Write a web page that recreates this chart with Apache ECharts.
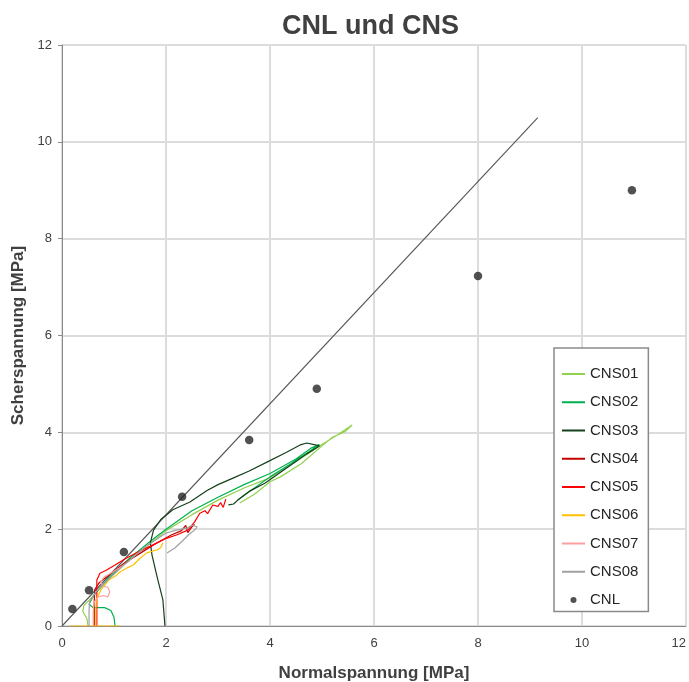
<!DOCTYPE html>
<html><head><meta charset="utf-8">
<script src="https://cdn.jsdelivr.net/npm/echarts@6/dist/echarts.min.js"></script>
<style>html,body{margin:0;padding:0;background:#fff}#c{width:689px;height:682px}</style>
</head><body><div id="c"></div>
<script>
const xTicks = [0, 2, 4, 6, 8, 10, 12];
const yTicks = [0, 2, 4, 6, 8, 10, 12];
const seriesNames = ['CNS01','CNS02','CNS03','CNS04','CNS05','CNS06','CNS07','CNS08','CNL'];
const cns01 = [[0.5,0],[0.48,0.15],[0.4,0.3],[0.42,0.42],[0.6,0.62],[0.9,0.98],[1.2,1.28],[1.6,1.62],[2.0,1.97],[2.5,2.3],[3.0,2.6],[3.5,2.85],[4.0,3.06],[4.5,3.4],[5.0,3.75],[5.3,3.95],[5.58,4.15],[5.45,4.02],[5.2,3.9],[5.0,3.72],[4.6,3.35],[4.2,3.08],[4.0,2.98],[3.7,2.72],[3.42,2.54]];
const cns02 = [[1.02,0],[1.0,0.18],[0.94,0.32],[0.82,0.38],[0.6,0.38],[0.52,0.45],[0.62,0.65],[0.9,1.0],[1.3,1.4],[1.7,1.75],[2.0,2.0],[2.5,2.38],[3.0,2.66],[3.5,2.92],[4.0,3.15],[4.5,3.45],[4.8,3.68],[4.95,3.75],[4.75,3.6],[4.4,3.35],[4.0,3.08],[3.7,2.85],[3.5,2.7],[3.38,2.6]];
const cns03 = [[1.98,0],[1.94,0.54],[1.83,1.01],[1.73,1.47],[1.7,1.72],[1.76,1.98],[1.9,2.2],[2.13,2.4],[2.46,2.56],[2.79,2.8],[3.0,2.92],[3.3,3.06],[3.6,3.2],[3.95,3.39],[4.3,3.58],[4.58,3.74],[4.71,3.78],[4.87,3.74],[4.95,3.72],[4.7,3.55],[4.3,3.25],[3.9,2.95],[3.6,2.78],[3.4,2.62],[3.3,2.52],[3.2,2.5]];
const cns04 = [[0.62,0],[0.62,0.5],[0.63,0.75],[0.72,0.9],[0.9,1.05],[1.2,1.3],[1.5,1.5],[1.8,1.7],[2.1,1.88],[2.3,1.97],[2.38,2.08],[2.42,1.93],[2.5,2.05],[2.55,2.1]];
const cns05 = [[0.67,0],[0.67,0.6],[0.67,0.95],[0.73,1.09],[0.85,1.15],[1.02,1.26],[1.2,1.38],[1.46,1.53],[1.7,1.65],[1.98,1.8],[2.2,1.88],[2.42,1.98],[2.55,2.15],[2.65,2.33],[2.75,2.38],[2.8,2.32],[2.9,2.5],[3.0,2.47],[3.05,2.55],[3.1,2.45],[3.15,2.62]];
const cns06 = [[0.15,0],[1.12,0],[0.65,0],[0.65,0.3],[0.66,0.55],[0.75,0.75],[0.9,0.95],[1.05,1.05],[1.12,1.12],[1.25,1.2],[1.37,1.26],[1.5,1.4],[1.63,1.51],[1.75,1.55],[1.83,1.57],[1.9,1.62],[1.94,1.72],[1.92,1.67]];
const cns07 = [[0.6,0],[0.6,0.3],[0.62,0.5],[0.7,0.6],[0.8,0.63],[0.88,0.6],[0.92,0.7],[0.88,0.8],[0.8,0.82],[0.74,0.9],[0.8,1.0],[0.95,1.1],[1.1,1.2],[1.3,1.35]];
const cns08 = [[0.52,0],[0.52,0.3],[0.53,0.5],[0.65,0.7],[0.9,0.97],[1.2,1.27],[1.6,1.63],[2.0,1.92],[2.2,1.98],[2.4,2.02],[2.5,2.08],[2.6,2.05],[2.55,1.98],[2.45,1.9],[2.3,1.74],[2.17,1.61],[2.02,1.51]];
const cnl = [[0.2,0.35],[0.52,0.74],[1.19,1.53],[2.31,2.67],[3.6,3.84],[4.9,4.9],[8.0,7.23],[10.96,9.0]];
const envelope = [[0,0],[9.15,10.5]];

const colors = ['#92D050','#00B050','#15401c','#C00000','#FF0000','#FFC000','#FF9E9E','#A0A0A0'];
const cnsData = [cns01,cns02,cns03,cns04,cns05,cns06,cns07,cns08];
const FF = "'Liberation Sans', Arial, sans-serif";

const series = cnsData.map((d,i)=>({
  name: seriesNames[i], type:'line', data:d, symbol:'none', showSymbol:false,
  lineStyle:{color:colors[i], width:1.2}, itemStyle:{color:colors[i]}, z:3
}));
series.unshift({name:'envelope', type:'line', data:envelope, symbol:'none', lineStyle:{color:'#555555', width:1.1}, z:2, silent:true});
series.push({name:'CNL', type:'scatter', data:cnl, symbol:'circle', symbolSize:8.5, itemStyle:{color:'#262626'}, z:4});

const lineIcon = 'path://M0,0 L23,0 L23,2 L0,2 Z';
const dotIcon = 'path://M0,0 M23,14 M8.5,7 A3,3 0 1,0 14.5,7 A3,3 0 1,0 8.5,7 Z';

const chart = echarts.init(document.getElementById('c'), null, {renderer:'canvas'});
chart.setOption({
  animation:false,
  backgroundColor:'#fff',
  title:{text:'CNL und CNS', left:282, top:13, padding:0, textStyle:{fontFamily:FF, fontSize:27, fontWeight:'bold', color:'#404040'}},
  grid:{left:62, right:3, top:45, bottom:56, show:true, borderColor:'#8a8a8a', borderWidth:1, containLabel:false, outerBoundsMode:'none'},
  xAxis:{type:'value', min:xTicks[0], max:xTicks[xTicks.length-1], interval:2,
    name:'Normalspannung [MPa]', nameLocation:'middle', nameGap:39,
    nameTextStyle:{fontFamily:FF, fontSize:17, fontWeight:'bold', color:'#404040'},
    axisLine:{show:true, lineStyle:{color:'#8a8a8a', width:1}}, axisTick:{show:false},
    axisLabel:{fontFamily:FF, fontSize:13, color:'#404040', margin:11, alignMaxLabel:'right'},
    splitLine:{show:true, lineStyle:{color:'#dcdcdc', width:2}}},
  yAxis:{type:'value', min:yTicks[0], max:yTicks[yTicks.length-1], interval:2,
    name:'Scherspannung [MPa]', nameLocation:'middle', nameGap:35,
    nameTextStyle:{fontFamily:FF, fontSize:17, fontWeight:'bold', color:'#404040'},
    axisLine:{show:true, lineStyle:{color:'#8a8a8a', width:1}}, axisTick:{show:true, length:4, lineStyle:{color:'#8a8a8a'}},
    axisLabel:{fontFamily:FF, fontSize:13, color:'#404040', margin:10},
    splitLine:{show:true, lineStyle:{color:'#dcdcdc', width:2}}},
  legend:{
    data: seriesNames.map(n => ({name:n, icon: n==='CNL' ? dotIcon : lineIcon})),
    orient:'vertical', left:554, top:348, itemWidth:23, itemHeight:14, itemGap:13.25,
    padding:[18.5,10,4,8], backgroundColor:'#fff', borderColor:'#8a8a8a', borderWidth:1.5,
    textStyle:{fontFamily:FF, fontSize:15, color:'#262626'}
  },
  series: series
});
</script></body></html>
